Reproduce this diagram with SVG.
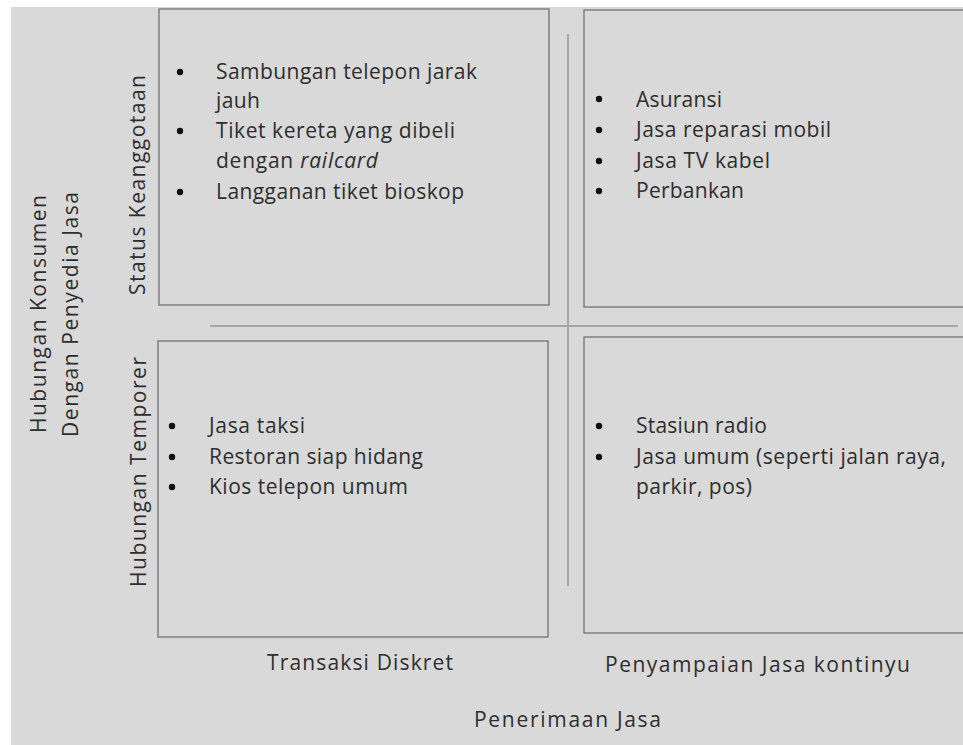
<svg xmlns="http://www.w3.org/2000/svg" width="963" height="745" viewBox="0 0 963 745">
  <style>
    .bg { fill: #d9d9d9; }
    .box { fill: #d9d9d9; stroke: #7f7f7f; stroke-width: 1.5; }
    .axis { stroke: #a6a6a6; stroke-width: 2; fill: none; }
    text { font-family: "Open Sans", "Liberation Sans", sans-serif; font-size: 21px; fill: #2e2e2e; }
    .dot { fill: #111; }
  </style>

  <!-- page -->
  <rect x="0" y="0" width="963" height="745" fill="#ffffff"/>
  <rect class="bg" x="11" y="7" width="952" height="738"/>

  <!-- quadrant dividers -->
  <g id="connectors">
    <line class="axis" x1="210" y1="326" x2="958" y2="326"/>
    <line class="axis" x1="568" y1="34" x2="568" y2="586"/>
  </g>

  <!-- top-left: membership, discrete -->
  <g id="q-membership-discrete">
    <rect class="box" x="159" y="9" width="390" height="296"/>
    <circle class="dot" cx="180" cy="72" r="3.2"/>
    <text x="216" y="79" textLength="261" lengthAdjust="spacing">Sambungan telepon jarak</text>
    <text x="216" y="108" textLength="44" lengthAdjust="spacing">jauh</text>
    <circle class="dot" cx="180" cy="131" r="3.2"/>
    <text x="216" y="138" textLength="239" lengthAdjust="spacing">Tiket kereta yang dibeli</text>
    <text x="216" y="168" textLength="162" lengthAdjust="spacing">dengan <tspan font-style="italic">railcard</tspan></text>
    <circle class="dot" cx="180" cy="192" r="3.2"/>
    <text x="216" y="199" textLength="248" lengthAdjust="spacing">Langganan tiket bioskop</text>
  </g>

  <!-- top-right: membership, continuous -->
  <g id="q-membership-continuous">
    <rect class="box" x="584" y="10" width="390" height="297"/>
    <circle class="dot" cx="599" cy="99" r="3.2"/>
    <text x="636" y="107" textLength="86" lengthAdjust="spacing">Asuransi</text>
    <circle class="dot" cx="599" cy="130" r="3.2"/>
    <text x="636" y="137" textLength="195" lengthAdjust="spacing">Jasa reparasi mobil</text>
    <circle class="dot" cx="599" cy="161" r="3.2"/>
    <text x="636" y="168" textLength="134" lengthAdjust="spacing">Jasa TV kabel</text>
    <circle class="dot" cx="599" cy="191" r="3.2"/>
    <text x="636" y="198" textLength="108" lengthAdjust="spacing">Perbankan</text>
  </g>

  <!-- bottom-left: temporary, discrete -->
  <g id="q-temporary-discrete">
    <rect class="box" x="158" y="341" width="390" height="296"/>
    <circle class="dot" cx="172" cy="426" r="3.2"/>
    <text x="209" y="433" textLength="96" lengthAdjust="spacing">Jasa taksi</text>
    <circle class="dot" cx="172" cy="457" r="3.2"/>
    <text x="209" y="464" textLength="214" lengthAdjust="spacing">Restoran siap hidang</text>
    <circle class="dot" cx="172" cy="487" r="3.2"/>
    <text x="209" y="494" textLength="199" lengthAdjust="spacing">Kios telepon umum</text>
  </g>

  <!-- bottom-right: temporary, continuous -->
  <g id="q-temporary-continuous">
    <rect class="box" x="584" y="337" width="390" height="296"/>
    <circle class="dot" cx="599" cy="426" r="3.2"/>
    <text x="636" y="433" textLength="131" lengthAdjust="spacing">Stasiun radio</text>
    <circle class="dot" cx="599" cy="457" r="3.2"/>
    <text x="636" y="464" textLength="310" lengthAdjust="spacing">Jasa umum (seperti jalan raya,</text>
    <text x="636" y="494" textLength="116" lengthAdjust="spacing">parkir, pos)</text>
  </g>

  <!-- axis labels -->
  <g id="labels">
    <text x="267" y="670" textLength="186" lengthAdjust="spacing">Transaksi Diskret</text>
    <text x="605" y="672" textLength="305" lengthAdjust="spacing">Penyampaian Jasa kontinyu</text>
    <text x="474" y="727" textLength="187" lengthAdjust="spacing">Penerimaan Jasa</text>
    <text transform="translate(145,295) rotate(-90)" textLength="220" lengthAdjust="spacing">Status Keanggotaan</text>
    <text transform="translate(146,587) rotate(-90)" textLength="230" lengthAdjust="spacing">Hubungan Temporer</text>
    <text transform="translate(46,433) rotate(-90)" textLength="238" lengthAdjust="spacing">Hubungan Konsumen</text>
    <text transform="translate(78,437) rotate(-90)" textLength="245" lengthAdjust="spacing">Dengan Penyedia Jasa</text>
  </g>
</svg>
